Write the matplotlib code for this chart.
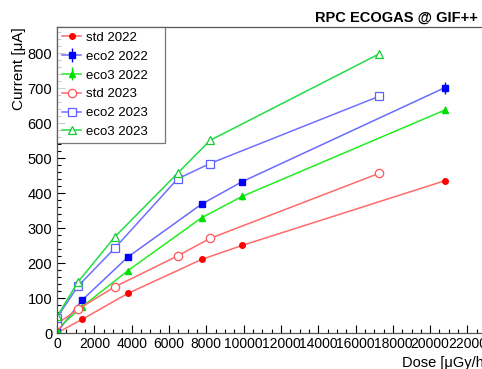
import matplotlib
matplotlib.use("Agg")
import matplotlib.pyplot as plt
from matplotlib.ticker import MultipleLocator

plt.rcParams['font.family'] = ['Liberation Sans', 'DejaVu Sans']

# --- DATA ---
dose_2022 = [0, 1350, 3800, 7750, 9920, 20800]
dose_2023 = [0, 1130, 3110, 6460, 8200, 17260]

std_2022 = [1, 40, 114, 211, 251, 436]
eco2_2022 = [3, 95, 218, 369, 433, 702]
eco3_2022 = [12, 76, 179, 330, 391, 638]
eco3_2022_err = [0, 0, 0, 10, 10, 10]
eco2_2022_err = [0, 0, 0, 0, 0, 17]

std_2023 = [27, 69, 133, 221, 271, 457]
eco2_2023 = [45, 135, 244, 441, 485, 677]
eco3_2023 = [48, 147, 276, 457, 551, 798]

fig = plt.figure(figsize=(4.82, 3.69), dpi=100)
ax = fig.add_axes([57 / 482, 35.7 / 369, 431 / 482, 306.3 / 369])

ax.errorbar(dose_2022, std_2022, fmt='-o', color='#ff6a6a', mfc='#ff0000', mec='#ff0000',
            ms=4, lw=1.1, label='std 2022')
ax.errorbar(dose_2022, eco2_2022, yerr=eco2_2022_err, fmt='-s', color='#6a6aff', mfc='#0000ff',
            mec='#0000ff', ecolor='#0000ff', elinewidth=1, ms=5, lw=1.1, label='eco2 2022')
ax.errorbar(dose_2022, eco3_2022, yerr=eco3_2022_err, fmt='-^', color='#22ee22', mfc='#00dd00',
            mec='#00dd00', ecolor='#00dd00', elinewidth=1, ms=5, lw=1.1, label='eco3 2022')
ax.errorbar(dose_2023, std_2023, fmt='-o', color='#ff6a6a', mfc='white', mec='#ff5555',
            ms=6, mew=0.9, lw=1.1, label='std 2023')
ax.errorbar(dose_2023, eco2_2023, fmt='-s', color='#7070ff', mfc='white', mec='#6060ff',
            ms=6, mew=0.9, lw=1.1, label='eco2 2023')
ax.errorbar(dose_2023, eco3_2023, fmt='-^', color='#22dd44', mfc='white', mec='#11cc33',
            ms=6, mew=0.9, lw=1.1, label='eco3 2023')

ax.set_xlim(0, 23100)
ax.set_ylim(0, 875)
ax.xaxis.set_major_locator(MultipleLocator(2000))
ax.xaxis.set_minor_locator(MultipleLocator(500))
ax.yaxis.set_major_locator(MultipleLocator(100))
ax.yaxis.set_minor_locator(MultipleLocator(20))
ax.tick_params(which='both', direction='in', top=False, right=False, labelsize=10.5)
ax.tick_params(axis='x', labelsize=10)
ax.tick_params(which='major', length=6, width=0.8)
ax.tick_params(which='minor', length=3, width=0.8)
ax.tick_params(axis='x', pad=3)
for s in ax.spines.values():
    s.set_color('#555555')
    s.set_linewidth(0.9)

ax.set_ylabel('Current [μA]', loc='top', fontsize=11, labelpad=1)
ax.set_xlabel('Dose [μGy/h]', loc='right', fontsize=10.5, labelpad=3)

fig.text(0.992, 0.953, 'RPC ECOGAS @ GIF++', ha='right', va='center',
         fontsize=10.5, fontweight='bold')

leg = ax.legend(loc='upper left', bbox_to_anchor=(0, 0, 108 / 431, 1), mode='expand',
                borderaxespad=0, fontsize=9.5, frameon=True, fancybox=False,
                handlelength=1.5, handletextpad=0.35, labelspacing=0.5, borderpad=0.35)
leg.get_frame().set_edgecolor('#555555')
leg.get_frame().set_linewidth(0.9)

fig.savefig('out.png', dpi=100)
